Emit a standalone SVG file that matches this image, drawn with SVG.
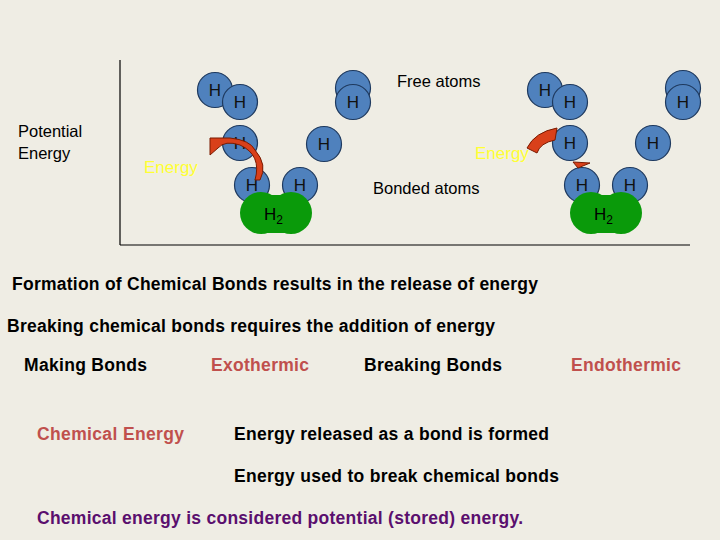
<svg xmlns="http://www.w3.org/2000/svg" width="720" height="540" viewBox="0 0 720 540">
<style>
text{font-family:"Liberation Sans",Arial,sans-serif}
.a circle{fill:#4f81bd;stroke:#1f3a5f;stroke-width:1.2}
.a text{font-size:17px;fill:#111;text-anchor:middle}
.g{fill:#0a9a0a}
.b{font-size:17.5px;font-weight:bold;fill:#000}
.r{fill:#c0504d}
.y{fill:#ffff33;font-size:17px}
.n{font-size:16.5px}
</style>
<rect width="720" height="540" fill="#efede4"/>
<g id="axes" stroke="#000" stroke-width="1.2"><line x1="120" y1="60" x2="120" y2="245"/><line x1="120" y1="245" x2="690" y2="245"/></g>
<text class="n" x="18" y="137">Potential</text><text class="n" x="18" y="159">Energy</text>
<text class="n" x="397" y="87">Free atoms</text>
<text class="n" x="373" y="194">Bonded atoms</text>
<g id="left">
<g class="a"><circle cx="215" cy="90" r="17.5"/><text x="215" y="96">H</text><circle cx="240" cy="102" r="17.5"/><text x="240" y="108">H</text>
<circle cx="353" cy="88" r="17.5"/><circle cx="353" cy="102" r="17.5"/><text x="353" y="108">H</text>
<circle cx="240" cy="143" r="17.5"/><text x="240" y="149">H</text>
<circle cx="324" cy="144" r="17.5"/><text x="324" y="150">H</text>
<circle cx="252" cy="185" r="17.5"/><text x="252" y="191">H</text>
<circle cx="300" cy="185" r="17.5"/><text x="300" y="191">H</text></g>
<g class="g"><circle cx="261" cy="213" r="21"/><circle cx="291" cy="213" r="21"/><rect x="261" y="195" width="30" height="38"/></g>
<text x="264" y="220" font-size="17">H<tspan font-size="12" dy="4">2</tspan></text>
<path d="M255,180 Q262,155 240,145 Q225,140 218,148 L210,155 L210,138 L230,138 Q250,140 255,150 Q268,165 260,180 Z" fill="#d9401a" stroke="#7a1a00" stroke-width="1"/>
<text class="y" x="144" y="173">Energy</text>
</g>
<g id="right">
<g class="a"><circle cx="545" cy="90" r="17.5"/><text x="545" y="96">H</text><circle cx="570" cy="102" r="17.5"/><text x="570" y="108">H</text>
<circle cx="683" cy="88" r="17.5"/><circle cx="683" cy="102" r="17.5"/><text x="683" y="108">H</text>
<circle cx="570" cy="143" r="17.5"/><text x="570" y="149">H</text>
<circle cx="653" cy="143" r="17.5"/><text x="653" y="149">H</text>
<circle cx="582" cy="185" r="17.5"/><text x="582" y="191">H</text>
<circle cx="630" cy="185" r="17.5"/><text x="630" y="191">H</text></g>
<g class="g"><circle cx="591" cy="213" r="21"/><circle cx="621" cy="213" r="21"/><rect x="591" y="195" width="30" height="38"/></g>
<text x="594" y="220" font-size="17">H<tspan font-size="12" dy="4">2</tspan></text>
<path d="M527,148 Q535,132 557,128 L555,140 Q540,143 537,153 Z" fill="#d9401a" stroke="#7a1a00" stroke-width="1"/>
<path d="M573,162 L590,163 L578,168 Z" fill="#d9401a" stroke="#7a1a00" stroke-width="1"/>
<text class="y" x="475" y="159">Energy</text>
</g>
<text class="b" x="12" y="290" textLength="526">Formation of Chemical Bonds results in the release of energy</text>
<text class="b" x="7" y="332" textLength="488">Breaking chemical bonds requires the addition of energy</text>
<text class="b" x="24" y="371" textLength="123">Making Bonds</text>
<text class="b r" x="211" y="371" textLength="98">Exothermic</text>
<text class="b" x="364" y="371" textLength="138">Breaking Bonds</text>
<text class="b r" x="571" y="371" textLength="110">Endothermic</text>
<text class="b r" x="37" y="440" textLength="147">Chemical Energy</text>
<text class="b" x="234" y="440" textLength="315">Energy released as a bond is formed</text>
<text class="b" x="234" y="482" textLength="325">Energy used to break chemical bonds</text>
<text class="b" x="37" y="524" textLength="486" style="fill:#5a0f6e">Chemical energy is considered potential (stored) energy.</text>
</svg>
